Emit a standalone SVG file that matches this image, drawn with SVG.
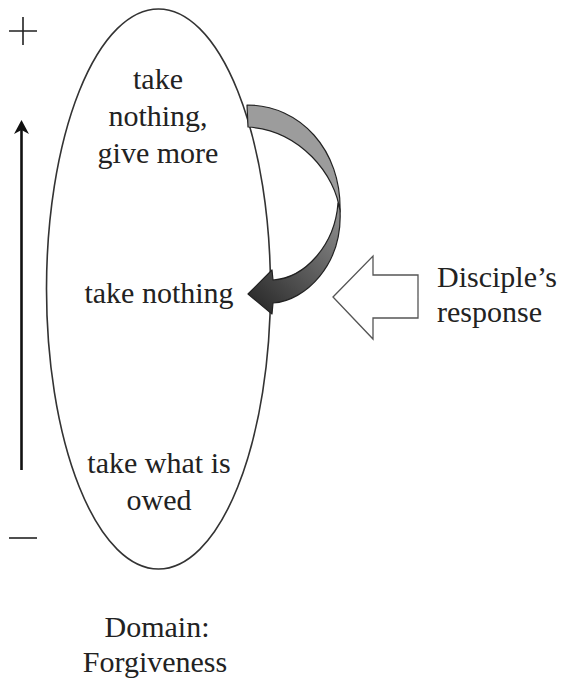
<svg xmlns="http://www.w3.org/2000/svg" width="564" height="682" viewBox="0 0 564 682">
<style>
.t{font-family:"Liberation Serif","Times New Roman",serif;font-size:30px;fill:#222}
.c{text-anchor:middle}
.ln{stroke:#222;fill:none}
</style>
<defs>
<linearGradient id="g1" gradientUnits="userSpaceOnUse" x1="340" y1="210" x2="255" y2="300">
<stop offset="0" stop-color="#8f8f8f"/>
<stop offset="1" stop-color="#2e2e2e"/>
</linearGradient>
</defs>
<rect width="564" height="682" fill="#fff"/>
<g id="scale">
<path class="ln" d="M9,31 H37 M23,17 V45" stroke-width="1.6"/>
<path class="ln" d="M9,538 H37" stroke-width="1.6"/>
<line x1="21.5" y1="470" x2="21.5" y2="124" stroke="#111" stroke-width="2.6"/>
<path d="M21.5,120 L29,134 L21.5,130 L14,134 Z" fill="#111"/>
</g>
<g id="domain">
<ellipse cx="158.5" cy="289" rx="112" ry="280" fill="none" stroke="#333" stroke-width="1.6"/>
</g>
<g id="n1"><text class="t c" x="158" y="89">take</text><text class="t c" x="158" y="126">nothing,</text><text class="t c" x="158" y="163">give more</text></g>
<g id="n2"><text class="t c" x="159" y="303">take nothing</text></g>
<g id="n3"><text class="t c" x="159" y="473">take what is</text><text class="t c" x="159" y="510">owed</text></g>
<g id="label"><text class="t c" x="157" y="637">Domain:</text><text class="t c" x="155" y="672">Forgiveness</text></g>
<g id="disciple"><text class="t" x="437" y="287">Disciple’s</text><text class="t" x="437" y="322">response</text></g>
<g id="connectors">
<path d="M247,105 C300,105 342,150 340,212 C336,175 300,130 248,127 Z" fill="#9c9c9c" stroke="#222" stroke-width="1.2" stroke-linejoin="round"/>
<path d="M340,210 C343,265 305,301 273,303 L272,314 L248,294 L272,270 L273,280 C305,278 335,245 338,203 Z" fill="url(#g1)" stroke="#222" stroke-width="1.2" stroke-linejoin="round"/>
<polygon points="333,297 373,256 373,275 418,275 418,318 373,318 373,339" fill="#fff" stroke="#555" stroke-width="1.3"/>
</g>
</svg>
